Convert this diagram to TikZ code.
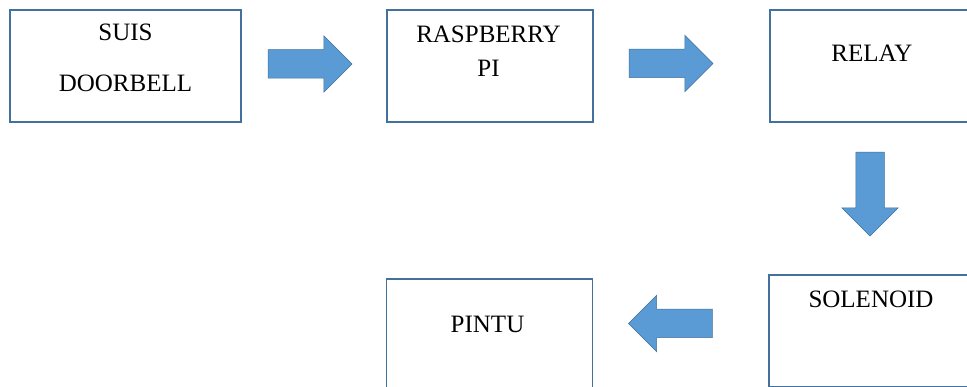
\documentclass[tikz,border=0pt]{standalone}
\usepackage{fontspec}
\setmainfont{Liberation Serif}
\usetikzlibrary{calc,shapes.arrows}

\definecolor{boxline}{HTML}{41719C}
\definecolor{arrowfill}{HTML}{5B9BD5}

\tikzset{
  block/.style={draw=boxline, line width=1.2pt, minimum width=206pt,
    minimum height=112pt, inner sep=0pt},
  fatarrow/.style={single arrow, draw=boxline, line width=0.5pt, fill=arrowfill,
    inner xsep=0pt, inner ysep=14pt, minimum height=84pt,
    single arrow head extend=14pt, anchor=tip},
  downarrow/.style={fatarrow, shape border rotate=270, inner xsep=14pt, inner ysep=0pt},
  caption/.style={font=\fontsize{25}{30}\selectfont, anchor=base, inner sep=0pt}
}

\begin{document}
\begin{tikzpicture}[x=1pt,y=-1pt]
  \useasboundingbox (0,0) rectangle (967,387);
  \clip (0,0) rectangle (967,387);
  % boxes, top row
  \node[block, minimum width=231pt] (doorbell) at (125.5,66) {};
  \node[block] (rpi) at (490,66) {};
  \node[block] (relay) at (873,66) {};
  % boxes, bottom row
  \node[block] (solenoid) at (872,331) {};
  \node[block] (pintu) at (489.5,335) {};

  % texts
  \node[caption] (doorbell-a) at ($(doorbell.north)+(0,31.5)$) {SUIS};
  \node[caption] (doorbell-b) at ($(doorbell.north)+(0,82.5)$) {DOORBELL};
  \node[caption] (rpi-a) at ($(rpi.north)+(-1.5,33.5)$) {RASPBERRY};
  \node[caption] (rpi-b) at ($(rpi.north)+(-1.5,67)$) {PI};
  \node[caption] (relay-a) at ($(relay.north)+(-1,52)$) {RELAY};
  \node[caption] (solenoid-a) at ($(solenoid.north)+(-1,33)$) {SOLENOID};
  \node[caption] (pintu-a) at ($(pintu.north)+(-2,54)$) {PINTU};

  % block arrows
  \node[fatarrow] (a1) at ($(rpi.west)+(-34,-2)$) {};
  \node[fatarrow] (a2) at ($(relay.west)+(-56,-2.5)$) {};
  \node[downarrow] (a3) at ($(solenoid.north)+(-2,-38)$) {};
  \node[fatarrow, shape border rotate=180] (a4) at ($(pintu.east)+(35,-11.5)$) {};
\end{tikzpicture}
\end{document}
